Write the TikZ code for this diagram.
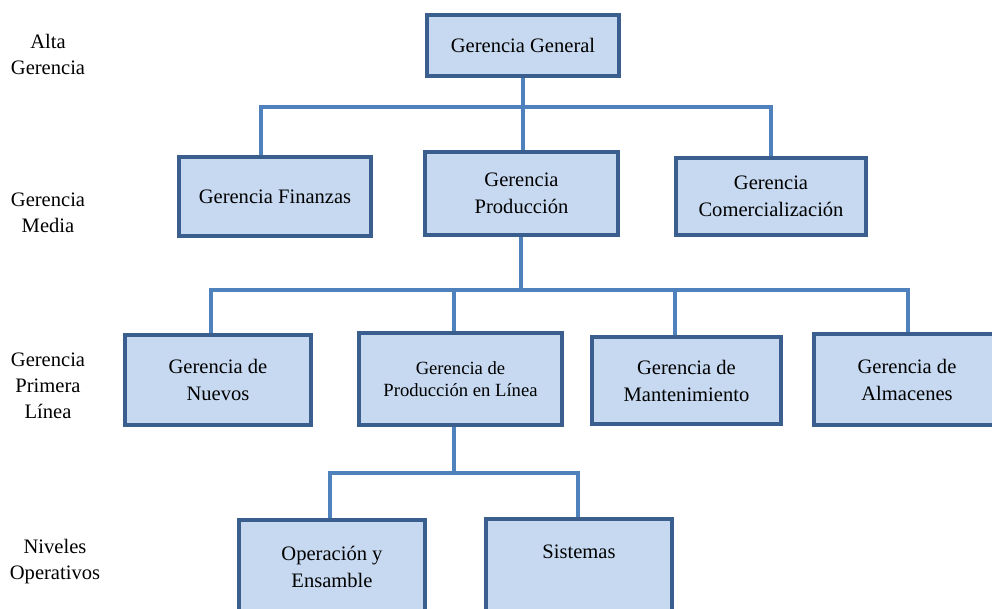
\documentclass[tikz,border=0pt]{standalone}
\usepackage{fontspec}
\setmainfont{Liberation Serif}
\definecolor{relleno}{HTML}{C6D9F0}
\definecolor{borde}{HTML}{3A5F8F}
\definecolor{enlace}{HTML}{4F81BD}
\tikzset{
  cargo/.style={draw=borde, fill=relleno, line width=2.3pt, align=center,
    inner sep=2pt, font=\fontsize{11.7}{15.4}\selectfont},
  nivel/.style={align=center, font=\fontsize{11.7}{14.8}\selectfont},
  linea/.style={draw=enlace, line width=1.9pt, line join=miter}
}

\begin{document}
\begin{tikzpicture}[x=0.02cm, y=-0.02cm]
\useasboundingbox (0,0) rectangle (992,609);
\clip (0,0) rectangle (992,609);

% niveles
\node[nivel] (alta) at (48,54.5) {Alta\\Gerencia};
\node[nivel] (media) at (48,213) {Gerencia\\Media};
\node[nivel] (primera) at (48,386) {Gerencia\\Primera\\Línea};
\node[nivel] (operativos) at (55,562) {Niveles\\Operativos};

% cargos
\node[cargo, minimum width=3.84cm, minimum height=1.22cm] (gg) at (523,45.5) {Gerencia General};
\node[cargo, minimum width=3.84cm, minimum height=1.58cm] (gf) at (275,196.5) {Gerencia Finanzas};
\node[cargo, minimum width=3.86cm, minimum height=1.66cm] (gp) at (521.5,193.5) {Gerencia\\Producción};
\node[cargo, minimum width=3.80cm, minimum height=1.54cm] (gc) at (771,196.5) {Gerencia\\Comercialización};
\node[cargo, minimum width=3.72cm, minimum height=1.80cm] (gn) at (218,380) {Gerencia de\\Nuevos};
\node[cargo, minimum width=4.06cm, minimum height=1.84cm,
  font=\fontsize{10.6}{12.6}\selectfont] (gpl) at (460.5,379) {Gerencia de\\Producción en Línea};
\node[cargo, minimum width=3.78cm, minimum height=1.74cm] (gm) at (686.5,380.5) {Gerencia de\\Mantenimiento};
\node[cargo, minimum width=3.72cm, minimum height=1.82cm] (ga) at (907,379.5) {Gerencia de\\Almacenes};
\node[cargo, minimum width=3.72cm, minimum height=1.86cm] (oe) at (332,566.5) {Operación y\\Ensamble};
\node[cargo, minimum width=3.72cm, minimum height=1.86cm] (sis) at (579,565.5) {Sistemas\\\mbox{}};

% lineas
\draw[linea] (gg.south) -- (523,107);
\draw[linea] (261,107 |- gf.north) -- (261,107) -- (771,107) -- (771,107 |- gc.north);
\draw[linea] (523,107) -- (523,107 |- gp.north);

\draw[linea] (521,290 |- gp.south) -- (521,290);
\draw[linea] (211,290 |- gn.north) -- (211,290) -- (908,290) -- (908,290 |- ga.north);
\foreach \x/\n in {454/gpl, 675/gm}
  \draw[linea] (\x,290) -- (\x,290 |- \n.north);

\draw[linea] (454,473 |- gpl.south) -- (454,473);
\draw[linea] (330,473 |- oe.north) -- (330,473) -- (578,473) -- (578,473 |- sis.north);
\end{tikzpicture}
\end{document}
